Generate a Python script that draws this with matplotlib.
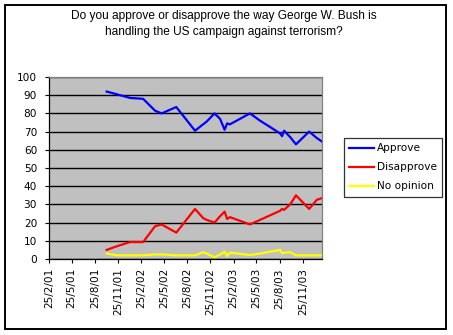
import numpy as np
import matplotlib
matplotlib.use("Agg")
import matplotlib.pyplot as plt
from matplotlib.patches import Rectangle

# ------------------------------
# Data
# ------------------------------
poll_dates = [
    "2001-10-11", "2001-11-20", "2002-01-11", "2002-03-04", "2002-04-20",
    "2002-05-16", "2002-07-13", "2002-09-25", "2002-10-27", "2002-11-10",
    "2002-12-11", "2003-01-02", "2003-01-20", "2003-01-30", "2003-02-10",
    "2003-04-30", "2003-06-09", "2003-07-19", "2003-08-27", "2003-09-04",
    "2003-09-12", "2003-10-06", "2003-10-29", "2003-12-20", "2004-01-19",
    "2004-02-09",
]
approve = [
    92, 90.5, 88.5, 88, 81.5,
    80, 83.5, 70.5, 74, 75.5,
    80, 77, 71, 74.5, 74,
    80, 76, 72.5, 69, 67.5,
    70.5, 67, 63, 70, 66.5,
    64.5,
]
disapprove = [
    5, 7, 9.3, 9.3, 18,
    19, 14.5, 27.5, 22.5, 21.5,
    20, 23.5, 26, 22, 23,
    19, 21.5, 24, 26.5, 27.5,
    27, 30, 35, 27.5, 32.5,
    33.5,
]
no_opinion = [
    3, 2, 2, 2, 2.5,
    2.5, 2, 2, 3.7, 3,
    1, 2.5, 4, 1.6, 3.5,
    2.2, 3, 4, 5, 3,
    3.5, 3.7, 2, 2, 2,
    2,
]

tick_dates = [
    "2001-02-25", "2001-05-25", "2001-08-25", "2001-11-25",
    "2002-02-25", "2002-05-25", "2002-08-25", "2002-11-25",
    "2003-02-25", "2003-05-25", "2003-08-25", "2003-11-25",
]
tick_labels = [
    "25/2/01", "25/5/01", "25/8/01", "25/11/01",
    "25/2/02", "25/5/02", "25/8/02", "25/11/02",
    "25/2/03", "25/5/03", "25/8/03", "25/11/03",
]

TITLE = ("Do you approve or disapprove the way George W. Bush is\n"
         "handling the US campaign against terrorism?")

plt.rcParams["font.family"] = ["Liberation Sans", "DejaVu Sans"]
SMALL_FONT = "DejaVu Sans"
SMALL_SIZE = 7.6

# ------------------------------
# Figure
# ------------------------------
W, H = 453, 335
fig = plt.figure(figsize=(W / 100, H / 100), dpi=100)
fig.patch.set_facecolor("white")

# outer chart border
fig.patches.append(Rectangle((5 / W, 1 - 329 / H), 441 / W, 324 / H,
                             transform=fig.transFigure, fill=False,
                             edgecolor="black", linewidth=1.4))

ax = fig.add_axes([49 / W, 1 - 259 / H, 273.3 / W, 182 / H])
ax.set_facecolor("#C0C0C0")

x = np.array(poll_dates, dtype="datetime64[D]")
ax.plot(x, approve, color="#0000FF", lw=1.6, label="Approve")
ax.plot(x, disapprove, color="#FF0000", lw=1.6, label="Disapprove")
ax.plot(x, no_opinion, color="#FFFF00", lw=1.6, label="No opinion")

ax.set_ylim(0, 100)
ax.set_yticks(range(0, 101, 10))
ax.yaxis.grid(True, color="black", lw=1.0)
ax.set_axisbelow(True)

ax.set_xlim(np.datetime64("2001-02-25"), np.datetime64("2004-02-10"))
ax.set_xticks(np.array(tick_dates, dtype="datetime64[D]"))
ax.set_xticklabels(tick_labels, rotation=90)

ax.tick_params(axis="both", direction="out", length=3, width=0.8,
               labelsize=SMALL_SIZE, color="black")
ax.tick_params(axis="y", pad=5.5)
ax.tick_params(axis="x", pad=3.5)
for lbl in ax.get_xticklabels() + ax.get_yticklabels():
    lbl.set_family(SMALL_FONT)

for side in ("left", "bottom"):
    ax.spines[side].set_color("black")
    ax.spines[side].set_linewidth(0.9)
for side in ("top", "right"):
    ax.spines[side].set_color("#808080")
    ax.spines[side].set_linewidth(0.9)

fig.text(224 / W, 1 - 24 / H, TITLE, ha="center", va="center",
         fontsize=8.6, linespacing=1.55)

leg = fig.legend(loc="upper left", bbox_to_anchor=(344 / W, 1 - 138 / H),
                 prop={"family": SMALL_FONT, "size": SMALL_SIZE},
                 frameon=True, fancybox=False,
                 handlelength=2.3, handletextpad=0.3, labelspacing=0.85,
                 borderpad=0.5, borderaxespad=0)
leg.get_frame().set_edgecolor("black")
leg.get_frame().set_linewidth(0.9)

fig.savefig("out.png", dpi=100)
